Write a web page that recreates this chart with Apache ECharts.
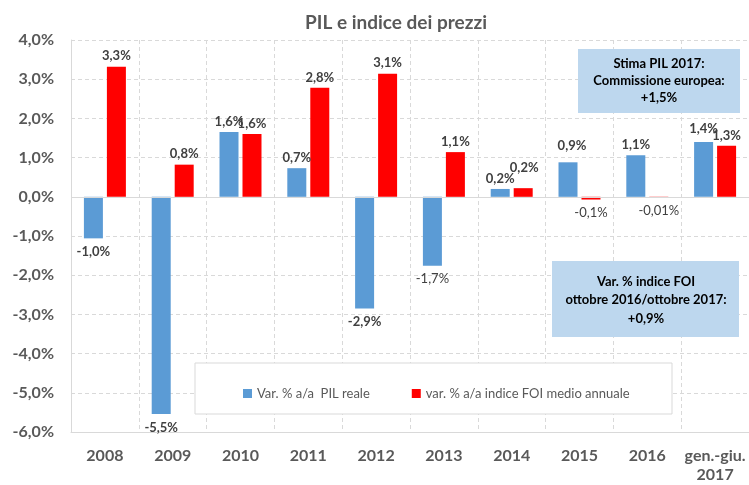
<!DOCTYPE html>
<html>
<head>
<meta charset="utf-8">
<script src="https://cdn.jsdelivr.net/npm/echarts@6/dist/echarts.min.js"></script>
<style>
  html, body { margin: 0; padding: 0; background: #fff; }
  #chart { width: 749px; height: 485px; }
</style>
</head>
<body>
<div id="chart"></div>
<script>
const categories = ['2008', '2009', '2010', '2011', '2012', '2013', '2014', '2015', '2016', 'gen.-giu.\n2017'];
const pilValues = [-1.06, -5.54, 1.65, 0.73, -2.85, -1.76, 0.20, 0.88, 1.06, 1.40];
const foiValues = [3.32, 0.82, 1.60, 2.78, 3.14, 1.14, 0.22, -0.07, -0.01, 1.30];
const pilLabels = ['-1,0%', '-5,5%', '1,6%', '0,7%', '-2,9%', '-1,7%', '0,2%', '0,9%', '1,1%', '1,4%'];
const foiLabels = ['3,3%', '0,8%', '1,6%', '2,8%', '3,1%', '1,1%', '0,2%', '-0,1%', '-0,01%', '1,3%'];
const seriesNames = ['Var. % a/a  PIL reale', 'var. % a/a indice FOI medio annuale'];
const yMin = -6, yMax = 4, yStep = 1;

const FONT = 'Lato, "Open Sans", sans-serif';
const GRAY = '#595959';

// small label nudges, like the hand-moved labels in the original
const pilNudge = { 7: [4, -6], 9: [0, -3] };
const foiNudge = { 6: [1, -10] };
const pilLight = [5];
const foiLight = [7, 8];

function buildData(values, labels, nudge, light) {
  return values.map((v, i) => ({
    value: v,
    label: {
      position: v < 0 ? 'bottom' : 'top',
      distance: v < 0 ? 7 : 4,
      offset: nudge[i] || [0, 0],
      fontWeight: light.indexOf(i) >= 0 ? 'normal' : 'bold',
      formatter: labels[i]
    }
  }));
}

var chart = echarts.init(document.getElementById('chart'));
var option = {
  animation: false,
  backgroundColor: '#fff',
  title: {
    text: 'PIL e indice dei prezzi',
    left: 391,
    top: 8,
    textAlign: 'center',
    textStyle: { fontFamily: FONT, fontSize: 19, fontWeight: 'bold', color: GRAY }
  },
  grid: { left: 71, right: -2, top: 40, bottom: 53 },
  legend: {
    left: 238,
    top: 382,
    z: 10,
    itemWidth: 9,
    itemHeight: 9,
    itemGap: 42,
    icon: 'rect',
    textStyle: { fontFamily: FONT, fontSize: 13, color: GRAY },
    data: seriesNames
  },
  xAxis: {
    type: 'category',
    data: categories,
    axisLine: { onZero: false, lineStyle: { color: '#D9D9D9' } },
    axisTick: { show: false },
    axisLabel: {
      interval: 0,
      margin: 14,
      fontFamily: FONT,
      fontSize: 16,
      fontWeight: 'bold',
      color: GRAY,
      lineHeight: 19
    },
    splitLine: { show: true, interval: 0, lineStyle: { color: '#D9D9D9', type: [4, 3] } }
  },
  yAxis: {
    type: 'value',
    min: yMin,
    max: yMax,
    interval: yStep,
    axisLine: { show: true, lineStyle: { color: '#D9D9D9' } },
    axisTick: { show: false },
    axisLabel: {
      margin: 17,
      fontFamily: FONT,
      fontSize: 16,
      fontWeight: 'bold',
      color: GRAY,
      formatter: v => v.toFixed(1).replace('.', ',') + '%'
    },
    splitLine: { lineStyle: { color: '#D9D9D9', type: [4, 3] } }
  },
  series: [
    {
      name: seriesNames[0],
      type: 'bar',
      barWidth: 19,
      barGap: '21%',
      itemStyle: { color: '#5B9BD5' },
      label: { show: true, fontFamily: FONT, fontSize: 13, color: '#404040' },
      data: buildData(pilValues, pilLabels, pilNudge, pilLight),
      markLine: {
        silent: true,
        symbol: 'none',
        label: { show: false },
        lineStyle: { color: '#D9D9D9', type: 'solid', width: 1 },
        data: [{ yAxis: 0 }]
      }
    },
    {
      name: seriesNames[1],
      type: 'bar',
      barWidth: 19,
      barGap: '21%',
      itemStyle: { color: '#FF0000' },
      label: { show: true, fontFamily: FONT, fontSize: 13, color: '#404040' },
      data: buildData(foiValues, foiLabels, foiNudge, foiLight)
    }
  ],
  graphic: [
    {
      type: 'rect', z: 5,
      shape: { x: 195, y: 363, width: 477, height: 51 },
      style: { fill: '#fff', stroke: '#D9D9D9', lineWidth: 1 }
    },
    {
      type: 'rect', z: 5,
      shape: { x: 578, y: 49, width: 162, height: 64 },
      style: { fill: '#BDD7EE' }
    },
    {
      type: 'text', z: 6,
      x: 659, y: 81,
      style: {
        text: 'Stima PIL 2017:\nCommissione europea:\n+1,5%',
        align: 'center', verticalAlign: 'middle',
        font: 'bold 13px ' + FONT,
        lineHeight: 17,
        fill: '#000'
      }
    },
    {
      type: 'rect', z: 5,
      shape: { x: 552, y: 261, width: 187, height: 76 },
      style: { fill: '#BDD7EE' }
    },
    {
      type: 'text', z: 6,
      x: 646, y: 300,
      style: {
        text: 'Var. % indice FOI\nottobre 2016/ottobre 2017:\n+0,9%',
        align: 'center', verticalAlign: 'middle',
        font: 'bold 13px ' + FONT,
        lineHeight: 18.5,
        fill: '#000'
      }
    }
  ]
};
chart.setOption(option);
</script>
</body>
</html>
